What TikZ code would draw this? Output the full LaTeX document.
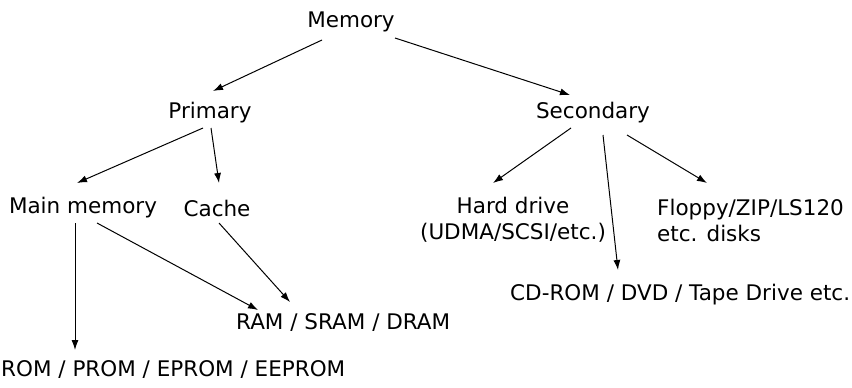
\documentclass[tikz,border=0pt]{standalone}
\usepackage{fontspec}
\setmainfont{DejaVu Sans}
\usepackage{tikz}
\usetikzlibrary{arrows,arrows.meta,positioning,calc}
\tikzstyle{item}=[inner sep=0pt,font=\fontsize{21.5}{26}\selectfont]
\tikzstyle{link}=[-{Latex[length=10pt,width=7pt]},line width=1pt]

\begin{document}
\begin{tikzpicture}[x=1pt,y=-1pt]
\useasboundingbox (0,0) rectangle (852,388);
% levels of the hierarchy
\node [item] (mem) at (351,22) {Memory};
\node [item] (prim) at (210,113) {Primary};
\node [item] (sec) at (593,113) {Secondary};
\node [item] (main) at (83,208) {Main memory};
\node [item] (cache) at (217,208) {Cache};
\node [item,align=center] (hdd) at (513,220) {Hard drive\\(UDMA/SCSI/etc.)};
\node [item,align=left,anchor=west] (flop) at (657,220) {Floppy/ZIP/LS120\\etc. disks};
\node [item,anchor=west] (cd) at (510,295) {CD-ROM / DVD / Tape Drive etc.};
\node [item,anchor=west] (ram) at (236,323) {RAM / SRAM / DRAM};
\node [item,anchor=west] (rom) at (1,370) {ROM / PROM / EPROM / EEPROM};

\draw [link] ($(mem)+(-29,18)$) -- ($(prim)+(3,-22)$);
\draw [link] ($(mem)+(44,16)$) -- ($(sec)+(-23,-18)$);
\draw [link] ($(prim)+(-7,15)$) -- ($(main)+(-6,-25)$);
\draw [link] ($(prim)+(1,15)$) -- ($(cache)+(2,-25)$);
\draw [link] ($(sec)+(-22,15)$) -- ($(hdd)+(-20,-37)$);
\draw [link] ($(sec)+(10,22)$) -- ($(cd.west)+(108,-25)$);
\draw [link] ($(sec)+(34,22)$) -- ($(flop.west)+(50,-37)$);
\draw [link] ($(main)+(-8,15)$) -- ($(rom.west)+(74,-20)$);
\draw [link] ($(main)+(14,15)$) -- ($(ram.west)+(22,-13)$);
\draw [link] ($(cache)+(2,15)$) -- ($(ram.west)+(54,-21)$);
\end{tikzpicture}
\end{document}
